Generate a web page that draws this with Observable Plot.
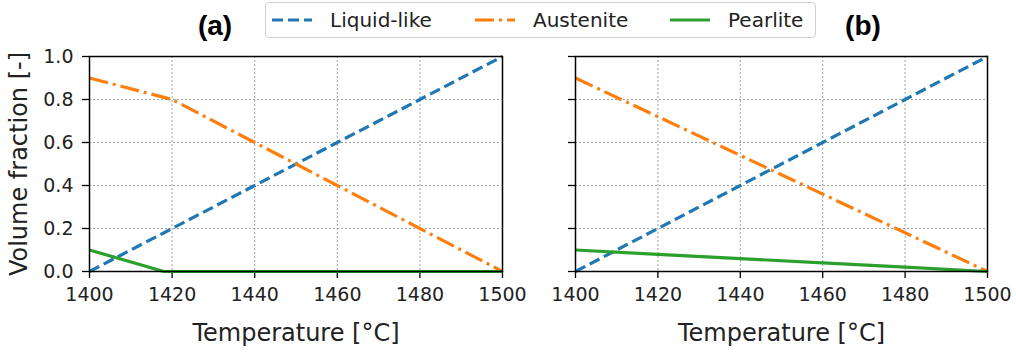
<!DOCTYPE html>
<html>
<head>
<meta charset="utf-8">
<script src="https://cdn.jsdelivr.net/npm/d3@7"></script>
<script src="https://cdn.jsdelivr.net/npm/@observablehq/plot@0.6"></script>
<style>
  html, body { margin: 0; padding: 0; background: #fff; }
  #wrap { position: relative; width: 1016px; height: 352px; font-family: "DejaVu Sans", sans-serif; }
  #wrap > div.panel { position: absolute; top: 0; }
  .title { position: absolute; font-family: "Liberation Sans", Arial, sans-serif; font-weight: bold; font-size: 28px; line-height: 1; transform: translate(-50%, -50%); }
  #legend { position: absolute; left: 265px; top: 2px; width: 551px; height: 36px; box-sizing: border-box; border: 1.5px solid #d0d0d0; border-radius: 4px; background: #fff; }
  #legend .item { position: absolute; top: 0; height: 100%; display: flex; align-items: center; font-size: 20px; color: #222; }
  #legend svg { display: block; }
</style>
</head>
<body>
<div id="wrap">
  <div class="panel" id="pa" style="left:0px"></div>
  <div class="panel" id="pb" style="left:500px"></div>
  <div class="title" style="left:215px; top:26px">(a)</div>
  <div class="title" style="left:863px; top:26px">(b)</div>
  <div id="legend"></div>
</div>
<script>
// ---- data ----
const temps = [1400, 1420, 1440, 1460, 1480, 1500];
const liquidA = [0.0, 0.2, 0.4, 0.6, 0.8, 1.0];
const austeniteA = [0.9, 0.8, 0.6, 0.4, 0.2, 0.0];
const pearliteATemps = [1400, 1418, 1500];
const pearliteA = [0.1, 0.0, 0.0];
const liquidB = [0.0, 0.2, 0.4, 0.6, 0.8, 1.0];
const austeniteB = [0.9, 0.72, 0.54, 0.36, 0.18, 0.0];
const pearliteB = [0.1, 0.08, 0.06, 0.04, 0.02, 0.0];
const xTicks = [1400, 1420, 1440, 1460, 1480, 1500];
const yTicks = [0.0, 0.2, 0.4, 0.6, 0.8, 1.0];
const seriesNames = ["Liquid-like", "Austenite", "Pearlite"];
const colors = ["#1f77b4", "#ff7f0e", "#2ca02c"];
const dashes = ["11,5", "19,5,3,5", null];

function toRows(xs, ys) { return xs.map((x, i) => ({x, y: ys[i]})); }

function panel(lin, aus, pea, peaT, showYLabels, width, marginLeft, marginRight) {
  const series = [toRows(temps, lin), toRows(temps, aus), toRows(peaT, pea)];
  const marks = [
    Plot.gridX(xTicks.slice(1, -1), {stroke: "#a0a0a0", strokeOpacity: 1, strokeDasharray: "2,2", strokeWidth: 1}),
    Plot.gridY(yTicks.slice(1, -1), {stroke: "#a0a0a0", strokeOpacity: 1, strokeDasharray: "2,2", strokeWidth: 1}),
    Plot.axisX(xTicks, {tickSize: 7, tickPadding: 9, fontSize: 19, tickFormat: d => String(d), label: null, stroke: "#000", strokeWidth: 1.3, fill: "#222"}),
    Plot.axisY(yTicks, {tickSize: 7, tickPadding: 9, fontSize: 19, tickFormat: showYLabels ? (d => d.toFixed(1)) : (() => ""), label: null, stroke: "#000", strokeWidth: 1.3, fill: "#222"}),
    Plot.text(["Temperature [°C]"], {frameAnchor: "bottom", lineAnchor: "middle", dy: 62, fontSize: 24, fill: "#222", text: d => d}),
  ];
  if (showYLabels) {
    marks.push(Plot.text(["Volume fraction [-]"], {frameAnchor: "left", textAnchor: "middle", lineAnchor: "middle", dx: -70, rotate: -90, fontSize: 24, fill: "#222", text: d => d}));
  }
  series.forEach((rows, i) => {
    marks.push(Plot.line(rows, {x: "x", y: "y", stroke: colors[i], strokeWidth: 3.2, strokeDasharray: dashes[i], strokeLinecap: "butt"}));
  });
  marks.push(Plot.frame({stroke: "#000", strokeWidth: 1.5}));
  return Plot.plot({
    width, height: 352,
    marginTop: 56, marginBottom: 81, marginLeft, marginRight,
    style: {fontFamily: "DejaVu Sans, sans-serif", background: "transparent", overflow: "visible"},
    x: {domain: [1400, 1500]},
    y: {domain: [0, 1]},
    marks
  });
}

document.getElementById("pa").appendChild(panel(liquidA, austeniteA, pearliteA, pearliteATemps, true, 520, 89, 18));
document.getElementById("pb").appendChild(panel(liquidB, austeniteB, pearliteB, temps, false, 516, 75, 29));

// legend
const legend = document.getElementById("legend");
const lx = [6, 209, 404];
seriesNames.forEach((name, i) => {
  const item = document.createElement("div");
  item.className = "item";
  item.style.left = lx[i] + "px";
  const svgNS = "http://www.w3.org/2000/svg";
  const s = document.createElementNS(svgNS, "svg");
  s.setAttribute("width", 58); s.setAttribute("height", 10);
  const l = document.createElementNS(svgNS, "line");
  l.setAttribute("x1", 0); l.setAttribute("x2", 40); l.setAttribute("y1", 5); l.setAttribute("y2", 5);
  l.setAttribute("stroke", colors[i]); l.setAttribute("stroke-width", 3.2);
  if (dashes[i]) l.setAttribute("stroke-dasharray", dashes[i]);
  s.appendChild(l);
  item.appendChild(s);
  const t = document.createElement("span");
  t.textContent = name;
  item.appendChild(t);
  legend.appendChild(item);
});
</script>
</body>
</html>
